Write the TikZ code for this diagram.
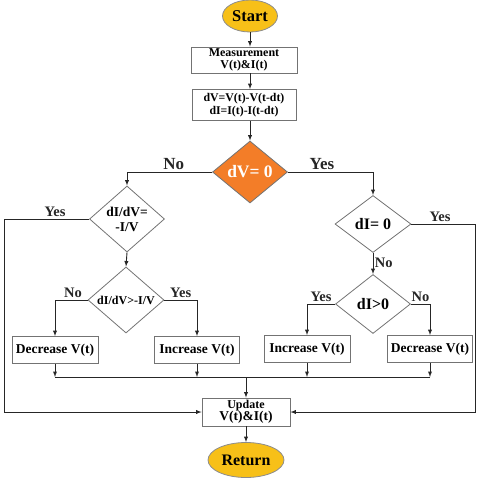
\documentclass[tikz,border=0pt]{standalone}
\usepackage{fontspec}
\setmainfont{Liberation Serif}
\usetikzlibrary{shapes.geometric,arrows,calc}
\usetikzlibrary{positioning}
\definecolor{termyel}{RGB}{247,192,24}
\definecolor{decorange}{RGB}{243,125,40}

\begin{document}
\begin{tikzpicture}[x=1pt,y=-1pt,>=latex,font=\bfseries,
    proc/.style={draw=black!55, line width=0.8pt, rectangle, inner sep=1pt, align=center},
    dec/.style={draw=black!55, line width=0.8pt, diamond, inner sep=0pt, align=center},
    term/.style={draw=black!45, line width=0.8pt, fill=termyel, ellipse, inner sep=0pt},
    flow/.style={line width=0.9pt, black!85},
    lbl/.style={font=\bfseries\fontsize{14.5}{14.5}\selectfont, inner sep=1.5pt},
    biglbl/.style={font=\bfseries\fontsize{17}{17}\selectfont, inner sep=1.5pt}]
                \useasboundingbox (0,0) rectangle (479,480);
                % terminals and boxes
                \node[term, minimum width=55, minimum height=32, font=\bfseries\fontsize{16.5}{16.5}\selectfont] (start) at (250,16) {Start};
                \node[proc, minimum width=106, minimum height=26, font=\bfseries\fontsize{12}{11.5}\selectfont] (meas) at (244,60) {Measurement\\V(t)\&I(t)};
                \node[proc, minimum width=104, minimum height=31, font=\bfseries\fontsize{11.8}{13}\selectfont] (diff) at (244,105) {dV=V(t)-V(t-dt)\\dI=I(t)-I(t-dt)};
                \node[dec, fill=decorange, minimum width=75, minimum height=62, text=white, font=\bfseries\fontsize{17.5}{17.5}\selectfont] (dvzero) at (250,172) {dV= 0};
                \node[dec, minimum width=75, minimum height=58, font=\bfseries\fontsize{13.5}{15}\selectfont] (dslope) at (127,219) {dI/dV=\\-I/V};
                \node[dec, minimum width=76, minimum height=59, font=\bfseries\fontsize{12}{12}\selectfont] (dgreat) at (126,300) {dI/dV>-I/V};
                \node[dec, minimum width=76, minimum height=57, font=\bfseries\fontsize{16}{16}\selectfont] (dizero) at (373,224) {dI= 0};
                \node[dec, minimum width=75, minimum height=59, font=\bfseries\fontsize{16}{16}\selectfont] (dipos) at (373,304) {dI>0};
                \node[proc, minimum width=86, minimum height=27, font=\bfseries\fontsize{13.5}{13.5}\selectfont] (decL) at (55,350) {Decrease V(t)};
                \node[proc, minimum width=85, minimum height=27, font=\bfseries\fontsize{13.5}{13.5}\selectfont] (incL) at (197,350) {Increase V(t)};
                \node[proc, minimum width=86, minimum height=27, font=\bfseries\fontsize{13.5}{13.5}\selectfont] (incR) at (307,349) {Increase V(t)};
                \node[proc, minimum width=85, minimum height=27, font=\bfseries\fontsize{13.5}{13.5}\selectfont] (decR) at (430,349) {Decrease V(t)};
                \node[proc, minimum width=88, minimum height=28, font=\bfseries\fontsize{13.5}{12}\selectfont] (upd) at (246,412) {{\fontsize{12}{11}\selectfont Update}\\V(t)\&I(t)};
                \node[term, minimum width=76, minimum height=35, font=\bfseries\fontsize{16}{16}\selectfont] (ret) at (246,460) {Return};
                % rails
                \coordinate (lrail) at (4,412);
                \coordinate (rrail) at (475,412);
                \coordinate (bus) at (0,377);
                % connectors
                \draw[flow,->] (start.south) -- (start.south |- meas.north);
                \draw[flow,->] (start |- meas.south) -- (start |- diff.north);
                \draw[flow,->] (start |- diff.south) -- (dvzero.north);
                \draw[flow,->] (dvzero.west) -- node[biglbl, above, pos=0.45] {No} (dvzero.west -| dslope.north) -- (dslope.north);
                \draw[flow,->] (dvzero.east) -- node[biglbl, above, pos=0.4] {Yes} (dvzero.east -| dizero.north) -- (dizero.north);
                \draw[flow,->] (dslope.west) -- node[lbl, above, pos=0.4] {Yes} (dslope.west -| lrail) -- (lrail) -- (upd.west);
                \draw[flow,->] (dslope.south) -- (dgreat.north);
                \draw[flow,->] (dgreat.west) -- node[lbl, above, pos=0.45] {No} (dgreat.west -| decL.north) -- (decL.north);
                \draw[flow,->] (dgreat.east) -- node[lbl, above, pos=0.5] {Yes} (dgreat.east -| incL.north) -- (incL.north);
                \draw[flow,->] (dizero.east) -- node[lbl, above, pos=0.45] {Yes} (dizero.east -| rrail) -- (rrail) -- (upd.east);
                \draw[flow,->] (dizero.south) -- node[lbl, right, pos=0.45] {No} (dipos.north);
                \draw[flow,->] (dipos.west) -- node[lbl, above, pos=0.5] {Yes} (dipos.west -| incR.north) -- (incR.north);
                \draw[flow,->] (dipos.east) -- node[lbl, above, pos=0.5] {No} (dipos.east -| decR.north) -- (decR.north);
                % collecting bus
                \draw[flow] (decL.south |- bus) -- (decR.south |- bus);
                \draw[flow,->] (decL.south) -- (decL.south |- bus);
                \draw[flow,->] (incL.south) -- (incL.south |- bus);
                \draw[flow,->] (incR.south) -- (incR.south |- bus);
                \draw[flow,->] (decR.south) -- (decR.south |- bus);
                \draw[flow,->] (upd.north |- bus) -- (upd.north);
                \draw[flow,->] (upd.south) -- (ret.north);
            \end{tikzpicture}
\end{document}
